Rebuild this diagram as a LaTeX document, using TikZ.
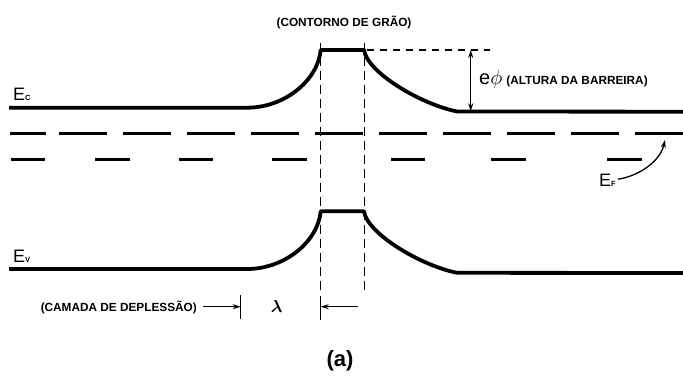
\documentclass[tikz,border=0pt]{standalone}
\usepackage{amsmath}
\usepackage{fontspec}
\setmainfont{Liberation Sans}
\usetikzlibrary{arrows.meta}

\newcommand\bandsub[1]{\raisebox{-0.8pt}{\bfseries\fontsize{7.5}{7.5}\selectfont #1}}

\begin{document}
\begin{tikzpicture}[x=1pt,y=-1pt,
  band/.style={line width=3.8pt, line join=round},
  fermione/.style={line width=2.7pt},
  fermitwo/.style={line width=3.5pt},
  guide/.style={line width=1.5pt, dash pattern=on 9pt off 5pt},
  topguide/.style={line width=1.4pt, dash pattern=on 7pt off 6pt},
  lbl/.style={inner sep=0pt, font=\bfseries\fontsize{11.8}{12}\selectfont},
  sym/.style={inner sep=0pt, font=\fontsize{18}{18}\selectfont},
  tip/.style={-{Stealth[length=8pt,width=5pt]}, line width=1.3pt},
  tick/.style={line width=1.5pt},
]
\useasboundingbox (0,0) rectangle (683,380);

% conduction band edge with the barrier at the grain boundary
\draw[band] (9,107.7) -- (247,107.7)
  .. controls (285,107.7) and (318,80) .. (320.7,50) -- (364,50)
  .. controls (367,72) and (420,104) .. (457,111.5) -- (683,111.7);

% valence band edge, same bending
\draw[band] (9,269) -- (247,269)
  .. controls (285,269) and (318,241.3) .. (320.7,211.3) -- (364,211.3)
  .. controls (367,233.3) and (420,265.3) .. (457,272.8) -- (683,273);

% Fermi level (long dashes)
\draw[fermione] (10,133.3) -- (46,133.3);
\draw[fermione, dash pattern=on 48pt off 16pt] (59,133.3) -- (683,133.3);

% second level (short dashes)
\foreach \a/\b in {11/45, 95/130, 179/213, 272/307, 391/425, 491/526, 607/642}
  \draw[fermitwo] (\a,159.5) -- (\b,159.5);

% grain boundary limits
\draw[guide] (320.7,42.7) -- (320.7,290);
\draw[guide] (364.3,42.7) -- (364.3,290);
\draw[topguide] (367,50) -- (490,50);

% barrier height
\coordinate (bt) at (470.7,50);
\coordinate (bb) at (470.7,111.3);
\draw[{Stealth[length=8pt,width=5pt]}-{Stealth[length=8pt,width=5pt]}, line width=1.3pt] (bt) -- (bb);

% labels
\node[lbl, anchor=base] (gb) at (344,27) {(CONTORNO DE GRÃO)};
\node[inner sep=0pt, anchor=base west] (phi) at (479,84.5)
  {{\fontsize{20}{20}\selectfont e$\phi$}\hspace{4pt}{\bfseries\fontsize{11.8}{12}\selectfont (ALTURA DA BARREIRA)}};
\node[sym, anchor=base west] (ec) at (13,100) {E\bandsub{C}};
\node[sym, anchor=base west] (ev) at (13,262) {E\bandsub{V}};
\node[sym, anchor=base west] (ef) at (599,186) {E\bandsub{F}};

% arrow from the Fermi label to its line
\coordinate (efend) at (665,140);
\draw[tip] ([xshift=2pt,yshift=1pt]ef.east) .. controls +(20,-3) and +(-5,22) .. (efend);

% depletion layer width
\coordinate (dl) at (240.7,306.7);
\coordinate (dr) at (320.7,306.7);
\draw[tick] (240.7,295) -- (240.7,319);
\draw[tick] (320.7,296) -- (320.7,320);
\node[lbl, anchor=base east] (depl) at (197,311) {(CAMADA DE DEPLESSÃO)};
\draw[tip] ([xshift=6pt]depl.east |- dl) -- (dl);
\draw[tip] ([xshift=37pt]dr) -- (dr);
\node[inner sep=0pt, anchor=base, font=\fontsize{18}{18}\selectfont] (lam) at (276.7,312) {$\boldsymbol{\lambda}$};

\node[inner sep=0pt, anchor=base, font=\bfseries\fontsize{22}{22}\selectfont] (cap) at (340,366) {(a)};
\end{tikzpicture}
\end{document}
